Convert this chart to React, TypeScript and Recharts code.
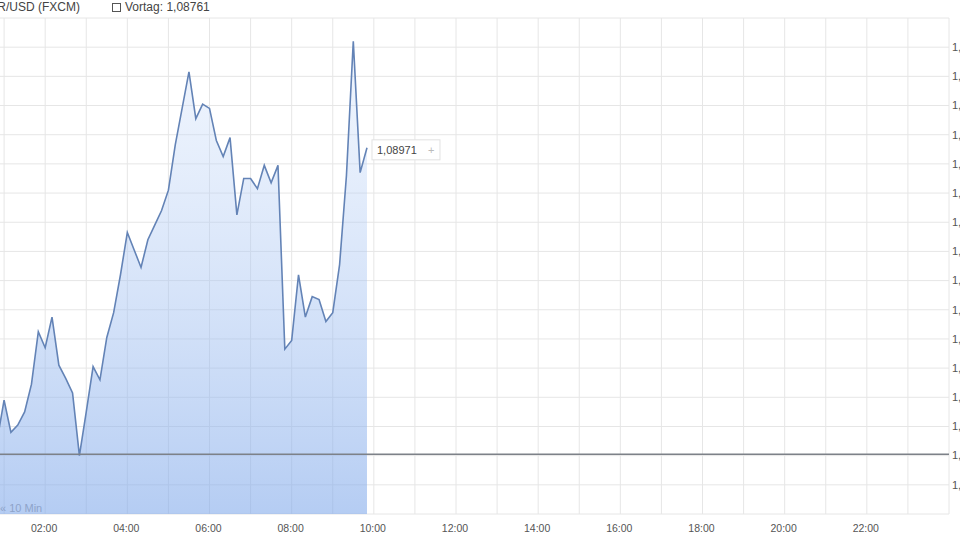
import {
  AreaChart,
  Area,
  XAxis,
  YAxis,
  CartesianGrid,
  ReferenceLine,
  ReferenceDot,
} from "recharts";

// EUR/USD intraday, 10-minute quotes
const TIMES = [
  "00:50", "01:00", "01:10", "01:20", "01:30", "01:40", "01:50",
  "02:00", "02:10", "02:20", "02:30", "02:40", "02:50",
  "03:00", "03:10", "03:20", "03:30", "03:40", "03:50",
  "04:00", "04:10", "04:20", "04:30", "04:40", "04:50",
  "05:00", "05:10", "05:20", "05:30", "05:40", "05:50",
  "06:00", "06:10", "06:20", "06:30", "06:40", "06:50",
  "07:00", "07:10", "07:20", "07:30", "07:40", "07:50",
  "08:00", "08:10", "08:20", "08:30", "08:40", "08:50",
  "09:00", "09:10", "09:20", "09:30", "09:40", "09:50",
];

const RATES = [
  1.08771, 1.08798, 1.08776, 1.08781, 1.0879, 1.08809, 1.08845,
  1.08834, 1.08855, 1.08822, 1.08813, 1.08803, 1.0876,
  1.0879, 1.08821, 1.08812, 1.08841, 1.08858, 1.08884,
  1.08913, 1.08901, 1.08889, 1.08908, 1.08918, 1.08928,
  1.08942, 1.08973, 1.08998, 1.09023, 1.08991, 1.09001,
  1.08998, 1.08976, 1.08965, 1.08978, 1.08925, 1.0895,
  1.0895, 1.08943, 1.08959, 1.08947, 1.08959, 1.08833,
  1.08839, 1.08884, 1.08855, 1.08869, 1.08867, 1.08852,
  1.08858, 1.08891, 1.08952, 1.09044, 1.08954, 1.08971,
];

const PREV_CLOSE = 1.08761;

const HOUR_TICKS = [
  "00:00", "01:00", "02:00", "03:00", "04:00", "05:00", "06:00", "07:00",
  "08:00", "09:00", "10:00", "11:00", "12:00", "13:00", "14:00", "15:00",
  "16:00", "17:00", "18:00", "19:00", "20:00", "21:00", "22:00", "23:00",
  "24:00",
];
const LABELED_HOURS = [
  "02:00", "04:00", "06:00", "08:00", "10:00", "12:00",
  "14:00", "16:00", "18:00", "20:00", "22:00",
];

const RATE_TICKS = [
  1.0872, 1.0874, 1.0876, 1.0878, 1.088, 1.0882, 1.0884, 1.0886, 1.0888,
  1.089, 1.0892, 1.0894, 1.0896, 1.0898, 1.09, 1.0902, 1.0904, 1.0906,
];

function toMinutes(t: string) {
  const [h, m] = t.split(":").map(Number);
  return h * 60 + m;
}

function fmtRate(v: number, digits = 4) {
  return v.toFixed(digits).replace(".", ",");
}

const data = TIMES.map((t, i) => ({ t: toMinutes(t), rate: RATES[i] }));
const last = data[data.length - 1];
const labeledMinutes = LABELED_HOURS.map(toMinutes);

function TimeTick(props: any) {
  const { x, y, payload } = props;
  if (!labeledMinutes.includes(payload.value)) return null;
  const h = Math.floor(payload.value / 60);
  const label = `${String(h).padStart(2, "0")}:00`;
  return (
    <text x={x - 1} y={y} dy="0.71em" textAnchor="middle" fill="#555" fontSize={10.5}>
      {label}
    </text>
  );
}

function RateTick(props: any) {
  const { x, y, payload } = props;
  const v = payload.value;
  if (v <= RATE_TICKS[0] + 1e-7 || v >= RATE_TICKS[RATE_TICKS.length - 1] - 1e-7) return null;
  return (
    <text x={x} y={y} dy="0.35em" textAnchor="start" fill="#555" fontSize={11}>
      {fmtRate(v)}
    </text>
  );
}

function PriceTag(props: any) {
  const { cx, cy } = props;
  return (
    <g>
      <rect x={cx + 5} y={cy - 8} width={68} height={20} fill="#fff" stroke="#e2e2e2" />
      <text x={cx + 10} y={cy + 2} dy="0.35em" fill="#444" fontSize={11}>
        {fmtRate(last.rate, 5)}
      </text>
      <text x={cx + 61} y={cy + 2} dy="0.35em" fill="#bbb" fontSize={11}>
        +
      </text>
    </g>
  );
}

export default function App() {
  return (
    <div
      style={{
        position: "fixed",
        left: 0,
        top: 0,
        width: 960,
        height: 542,
        overflow: "hidden",
        background: "#fff",
        fontFamily: "'Liberation Sans', Arial, sans-serif",
      }}
    >
      <div style={{ position: "absolute", left: -40, top: 0 }}>
        <AreaChart
          width={1100}
          height={542}
          data={data}
          margin={{ top: 18, right: 51, left: 3, bottom: 0 }}
        >
          <defs>
            <linearGradient id="fxFill" x1="0" y1="0" x2="0" y2="1">
              <stop offset="0%" stopColor="#cfe0fa" stopOpacity={0.3} />
              <stop offset="100%" stopColor="#7fa8ea" stopOpacity={0.58} />
            </linearGradient>
          </defs>
          <CartesianGrid stroke="#e6e6e6" strokeWidth={1} />
          <XAxis
            dataKey="t"
            type="number"
            domain={[0, 1440]}
            ticks={HOUR_TICKS.map(toMinutes)}
            tick={<TimeTick />}
            tickLine={false}
            axisLine={false}
            tickSize={0}
            tickMargin={11}
            height={28}
            allowDataOverflow
          />
          <YAxis
            orientation="right"
            type="number"
            domain={[RATE_TICKS[0], RATE_TICKS[RATE_TICKS.length - 1]]}
            ticks={RATE_TICKS}
            tick={<RateTick />}
            tickLine={false}
            axisLine={false}
            tickSize={0}
            tickMargin={3}
            width={60}
            allowDataOverflow
          />
          <Area
            type="linear"
            dataKey="rate"
            stroke="#6383b6"
            strokeWidth={1.6}
            fill="url(#fxFill)"
            fillOpacity={1}
            dot={false}
            activeDot={false}
            isAnimationActive={false}
          />
          <ReferenceLine y={PREV_CLOSE} stroke="#7d8188" strokeWidth={1.5} />
          <ReferenceDot x={last.t} y={last.rate} r={0} shape={<PriceTag />} />
        </AreaChart>
      </div>
      <div
        style={{
          position: "absolute",
          right: 880,
          top: 0,
          fontSize: 12,
          color: "#444",
          whiteSpace: "nowrap",
          lineHeight: "14px",
        }}
      >
        EUR/USD (FXCM)
      </div>
      <div
        style={{
          position: "absolute",
          left: 112,
          top: 3,
          width: 7,
          height: 7,
          border: "1px solid #555",
          background: "#fff",
        }}
      />
      <div
        style={{
          position: "absolute",
          left: 125,
          top: 0,
          fontSize: 12,
          color: "#444",
          whiteSpace: "nowrap",
          lineHeight: "14px",
        }}
      >
        Vortag: {fmtRate(PREV_CLOSE, 5)}
      </div>
      <div
        style={{
          position: "absolute",
          left: 0,
          top: 501,
          fontSize: 11,
          color: "#8ea3c9",
          whiteSpace: "nowrap",
          lineHeight: "14px",
        }}
      >
        « 10 Min
      </div>
    </div>
  );
}
